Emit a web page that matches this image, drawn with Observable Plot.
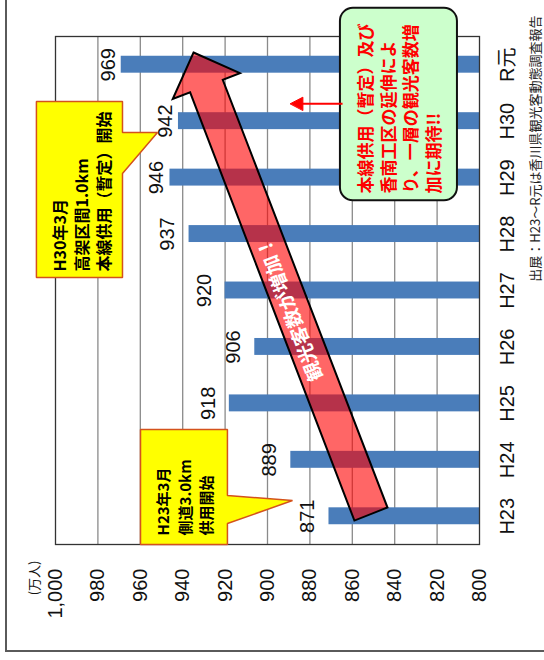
<!DOCTYPE html>
<html>
<head>
<meta charset="utf-8">
<script src="https://cdn.jsdelivr.net/npm/d3@7"></script>
<script src="https://cdn.jsdelivr.net/npm/@observablehq/plot@0.6"></script>
<style>
  body { margin: 0; background: #fff; }
  #wrap { position: relative; width: 544px; height: 660px; overflow: hidden; background: #fff; }
  #chart { position: absolute; left: 0; top: 0; }
  #border { position: absolute; left: 5px; top: -5px; width: 620px; height: 655px;
            border-left: 2px solid #5a5a5a; border-bottom: 2px solid #5a5a5a; pointer-events: none; }
</style>
</head>
<body>
<div id="wrap"><div id="chart"></div><div id="border"></div></div>
<script>
// ---- data ----
const categories = ["H23", "H24", "H25", "H26", "H27", "H28", "H29", "H30", "R元"];
const visitors = [871, 889, 918, 906, 920, 937, 946, 942, 969];
const valueTicks = [800, 820, 840, 860, 880, 900, 920, 940, 960, 980, 1000];
const unitLabel = "(万人)";
const sourceNote = "出展：H23～R元は香川県観光客動態調査報告";
const calloutH23 = "H23年3月\n側道3.0km\n供用開始";
const calloutH30 = "H30年3月\n高架区間1.0km\n本線供用（暫定）開始";
const noteText = "本線供用（暫定）及び\n香南工区の延伸によ\nり、一層の観光客数増\n加に期待!!";
const arrowText = "観光客数が増加！";

const rows = categories.map((c, i) => ({cat: c, i, value: visitors[i]}));
const base = valueTicks[0];
const nudged = new Set(["H29", "H30", "R元"]);

// annotation geometry, in data units (value, category index)
const bigArrow = [[934.9, 8.217], [913.0, 7.850], [921.1, 7.733], [843.4, 0.155], [859.0, -0.076], [936.5, 7.510], [944.7, 7.393]];
const h30Shape = [[1009.0, 7.348], [968.4, 7.348], [968.4, 6.799], [951.9, 6.799], [968.4, 6.073], [968.4, 4.230], [1009.0, 4.230]];
const h23Shape = [[959.9, 1.537], [918.9, 1.537], [918.9, 0.368], [888.2, 0.279], [918.9, -0.129], [918.9, -0.5], [959.9, -0.5]];
const smallHead = [[889.2, 7.31], [883.3, 7.425], [883.3, 7.195]];

const cjk = "'Noto Sans CJK JP', sans-serif";
const px = d => d[0], py = d => d[1];

const chart = Plot.plot({
  width: 544,
  height: 660,
  marginLeft: 55,
  marginRight: 65,
  marginTop: 36,
  marginBottom: 116,
  style: {fontFamily: "'Liberation Sans', Arial, 'Noto Sans CJK JP', sans-serif", fontSize: "20px", background: "transparent", overflow: "visible", color: "#111"},
  x: {domain: [800, 1000], reverse: true},
  y: {domain: [-0.5, 8.5]},
  marks: [
    Plot.gridX(valueTicks.slice(1, -1), {stroke: "#8a8a8a", strokeOpacity: 1, strokeWidth: 1.3}),
    Plot.rect(rows, {x1: base, x2: "value", y1: d => d.i - 0.15, y2: d => d.i + 0.15, fill: "#4a7dba"}),
    Plot.frame({stroke: "#333", strokeWidth: 1.3}),
    Plot.axisX(valueTicks, {anchor: "bottom", tickFormat: d3.format(","), tickSize: 0, tickPadding: 24,
      tickRotate: -90, textAnchor: "end", lineAnchor: "middle", fontSize: 20, label: null}),
    Plot.axisY(d3.range(categories.length), {anchor: "right", tickFormat: i => categories[i], tickSize: 0, tickPadding: 20,
      tickRotate: -90, textAnchor: "middle", lineAnchor: "top", fontSize: 20, label: null, fontFamily: "'Liberation Sans', Arial, 'Noto Sans CJK JP', sans-serif"}),
    // callouts
    Plot.line(h30Shape, {x: px, y: py, curve: "linear-closed", fill: "#ffff00", stroke: "#d4521c", strokeWidth: 1.5, strokeLinejoin: "miter"}),
    Plot.text([calloutH30], {x: 988.2, y: 4.336, text: d => d, rotate: -90, textAnchor: "start", lineAnchor: "middle",
      lineHeight: 1.375, fontSize: 16, fontWeight: "bold", fontFamily: cjk, fill: "#000"}),
    Plot.line(h23Shape, {x: px, y: py, curve: "linear-closed", fill: "#ffff00", stroke: "#d4521c", strokeWidth: 1.5, strokeLinejoin: "miter"}),
    Plot.text([calloutH23], {x: 939.6, y: -0.34, text: d => d, rotate: -90, textAnchor: "start", lineAnchor: "middle",
      lineHeight: 1.45, fontSize: 15, fontWeight: "bold", fontFamily: cjk, fill: "#000"}),
    // value labels
    Plot.text(rows.filter(d => !nudged.has(d.cat)), {x: "value", y: "i", text: d => String(d.value), rotate: -90, dx: -21,
      textAnchor: "middle", lineAnchor: "middle", fontSize: 20, fill: "#111"}),
    Plot.text(rows.filter(d => nudged.has(d.cat)), {x: "value", y: "i", text: d => String(d.value), rotate: -90, dx: -13,
      textAnchor: "middle", lineAnchor: "middle", fontSize: 20, fill: "#111"}),
    // green note
    Plot.rect([0], {x1: 865.6, x2: 810.4, y1: 9.0, y2: 5.59, rx: 13, fill: "#ccffcc", stroke: "#111", strokeWidth: 2}),
    Plot.text([noteText], {x: 838.1, y: 5.718, text: d => d, rotate: -90, textAnchor: "start", lineAnchor: "middle",
      lineHeight: 1.32, fontSize: 17, fontWeight: "bold", fontFamily: cjk, fill: "#ff0000"}),
    Plot.link([0], {x1: 864.6, y1: 7.31, x2: 884.5, y2: 7.31, stroke: "#ff0000", strokeWidth: 2}),
    Plot.line(smallHead, {x: px, y: py, curve: "linear-closed", fill: "#ff0000", stroke: "#ff0000", strokeWidth: 1}),
    // big arrow
    Plot.line(bigArrow, {x: px, y: py, curve: "linear-closed", fill: "#ff0000", fillOpacity: 0.6, stroke: "#000",
      strokeWidth: 2, strokeLinejoin: "miter", strokeMiterlimit: 10}),
    Plot.text([arrowText], {x: 889.2, y: 3.672, text: d => d, rotate: -111, textAnchor: "middle", lineAnchor: "middle",
      fontSize: 19, fontWeight: "bold", fontFamily: cjk, fill: "#fff"}),
    // unit label and source
    Plot.text([unitLabel], {frameAnchor: "bottom-left", text: d => d, rotate: -90, dx: -21, dy: 16, textAnchor: "end",
      lineAnchor: "middle", fontSize: 13, fontFamily: cjk, fill: "#111"}),
    Plot.text([sourceNote], {frameAnchor: "top-right", text: d => d, rotate: -90, dx: 56, dy: -21, textAnchor: "end",
      lineAnchor: "middle", fontSize: 13, fontFamily: cjk, fill: "#222"})
  ]
});
document.getElementById("chart").appendChild(chart);
</script>
</body>
</html>
